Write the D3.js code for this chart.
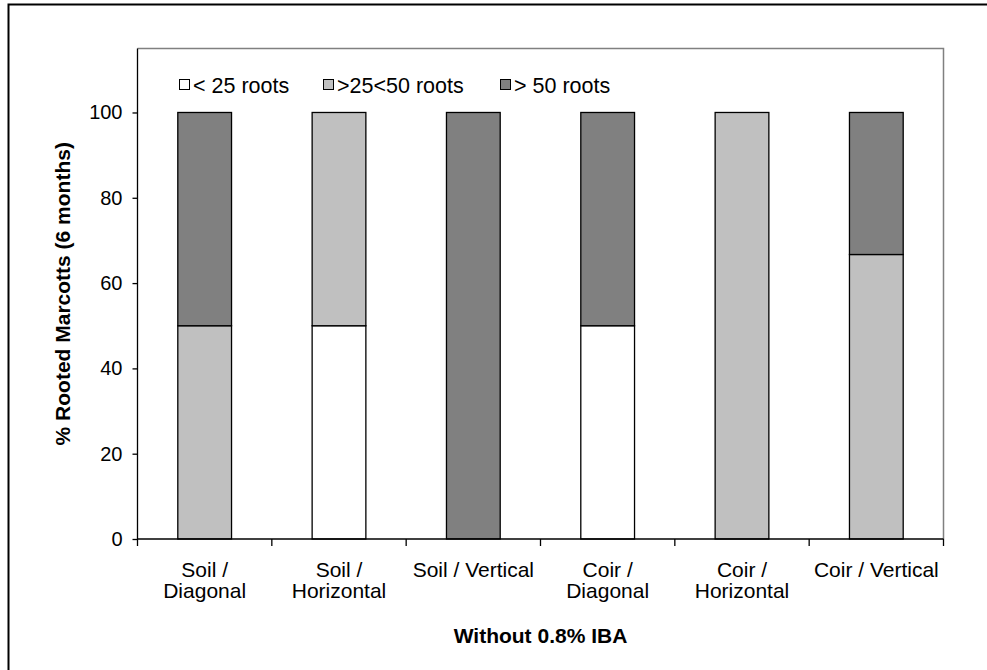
<!DOCTYPE html>
<html>
<head>
<meta charset="utf-8">
<script src="https://cdn.jsdelivr.net/npm/d3@7"></script>
<style>
  html, body { margin: 0; padding: 0; background: #fff; }
  svg { display: block; font-family: Arial, "Liberation Sans", sans-serif; }
</style>
</head>
<body>
<svg id="chart" width="987" height="670"></svg>
<script>
// Rooting categories (stack order, bottom to top) and their fills
const seriesNames = ["< 25 roots", ">25<50 roots", "> 50 roots"];
const seriesColors = ["#FFFFFF", "#C0C0C0", "#808080"];

// Treatments: medium / marcott orientation (label lines)
const categories = [
  ["Soil /", "Diagonal"],
  ["Soil /", "Horizontal"],
  ["Soil / Vertical"],
  ["Coir /", "Diagonal"],
  ["Coir /", "Horizontal"],
  ["Coir / Vertical"]
];

// Percentage of rooted marcotts per class
const lessThan25 = [0, 50, 0, 50, 0, 0];
const between25and50 = [50, 50, 0, 0, 100, 66.7];
const moreThan50 = [50, 0, 100, 50, 0, 33.3];

const yTicks = [0, 20, 40, 60, 80, 100];
const yTitle = "% Rooted Marcotts (6 months)";
const xTitle = "Without 0.8% IBA";

const svg = d3.select("#chart");

// outer frame
svg.append("rect")
  .attr("x", 8.5).attr("y", 4.5)
  .attr("width", 1000).attr("height", 700)
  .attr("fill", "none").attr("stroke", "#000").attr("stroke-width", 2);

const plot = { left: 137.5, right: 943.5, top: 48.5, bottom: 539 };

const x = d3.scaleBand()
  .domain(d3.range(categories.length))
  .range([plot.left, plot.right])
  .paddingInner(0.6)
  .paddingOuter(0.3);

const y = d3.scaleLinear()
  .domain([0, 115])
  .range([plot.bottom, plot.top]);

// plot-area border (top and right)
svg.append("path")
  .attr("d", `M${plot.left},${plot.top}H${plot.right}V${plot.bottom}`)
  .attr("fill", "none").attr("stroke", "#808080").attr("stroke-width", 1.5);

// stacked bars
const rows = categories.map((c, i) => ({
  i,
  s0: lessThan25[i], s1: between25and50[i], s2: moreThan50[i]
}));
const stack = d3.stack().keys(["s0", "s1", "s2"])(rows);

svg.append("g").selectAll("g")
  .data(stack)
  .join("g")
  .attr("fill", (d, k) => seriesColors[k])
  .selectAll("rect")
  .data(d => d.filter(p => p[1] - p[0] > 0))
  .join("rect")
  .attr("x", p => x(p.data.i))
  .attr("width", x.bandwidth())
  .attr("y", p => y(p[1]))
  .attr("height", p => y(p[0]) - y(p[1]))
  .attr("stroke", "#000")
  .attr("stroke-width", 1.3);

// y axis
const yAxis = svg.append("g")
  .attr("transform", `translate(${plot.left},0)`)
  .call(d3.axisLeft(y).tickValues(yTicks).tickSize(5).tickPadding(10).tickSizeOuter(0));
yAxis.select(".domain").attr("stroke", "#000").attr("stroke-width", 1.3)
  .attr("d", `M0,${plot.top}V${plot.bottom}`);
yAxis.selectAll(".tick line").attr("stroke", "#000").attr("stroke-width", 1.3);
yAxis.selectAll(".tick text").attr("font-size", 20).attr("fill", "#000")
  .attr("font-family", "Arial, 'Liberation Sans', sans-serif");

// x axis baseline and category dividers
const xAxis = svg.append("g");
xAxis.append("line")
  .attr("x1", plot.left).attr("x2", plot.right)
  .attr("y1", plot.bottom).attr("y2", plot.bottom)
  .attr("stroke", "#000").attr("stroke-width", 1.3);
const step = x.step();
const bounds = d3.range(categories.length + 1).map(k => plot.left + k * step);
xAxis.selectAll("line.div")
  .data(bounds)
  .join("line")
  .attr("class", "div")
  .attr("x1", d => d).attr("x2", d => d)
  .attr("y1", plot.bottom).attr("y2", plot.bottom + 7)
  .attr("stroke", "#000").attr("stroke-width", 1.3);

// category labels
xAxis.selectAll("text.cat")
  .data(categories)
  .join("text")
  .attr("class", "cat")
  .attr("text-anchor", "middle")
  .attr("font-size", 21)
  .attr("y", 577)
  .each(function (lines, i) {
    const t = d3.select(this);
    lines.forEach((ln, j) => {
      t.append("tspan")
        .attr("x", x(i) + x.bandwidth() / 2)
        .attr("dy", j === 0 ? 0 : 21)
        .text(ln);
    });
  });

// axis titles
svg.append("text")
  .attr("x", (plot.left + plot.right) / 2)
  .attr("y", 643)
  .attr("text-anchor", "middle")
  .attr("font-size", 21).attr("font-weight", "bold")
  .text(xTitle);

svg.append("text")
  .attr("transform", `translate(70,${(plot.top + plot.bottom) / 2}) rotate(-90)`)
  .attr("text-anchor", "middle")
  .attr("font-size", 21).attr("font-weight", "bold")
  .text(yTitle);

// legend
const legendX = [179, 323, 500];
const legend = svg.append("g");
legend.selectAll("g")
  .data(seriesNames)
  .join("g")
  .attr("transform", (d, i) => `translate(${legendX[i]},79)`)
  .each(function (name, i) {
    const g = d3.select(this);
    g.append("rect")
      .attr("x", 0.5).attr("y", 0.5)
      .attr("width", 10).attr("height", 10)
      .attr("fill", seriesColors[i]).attr("stroke", "#000").attr("stroke-width", 1);
    g.append("text")
      .attr("x", 14).attr("y", 14)
      .attr("font-size", 21.5)
      .text(name);
  });
</script>
</body>
</html>
